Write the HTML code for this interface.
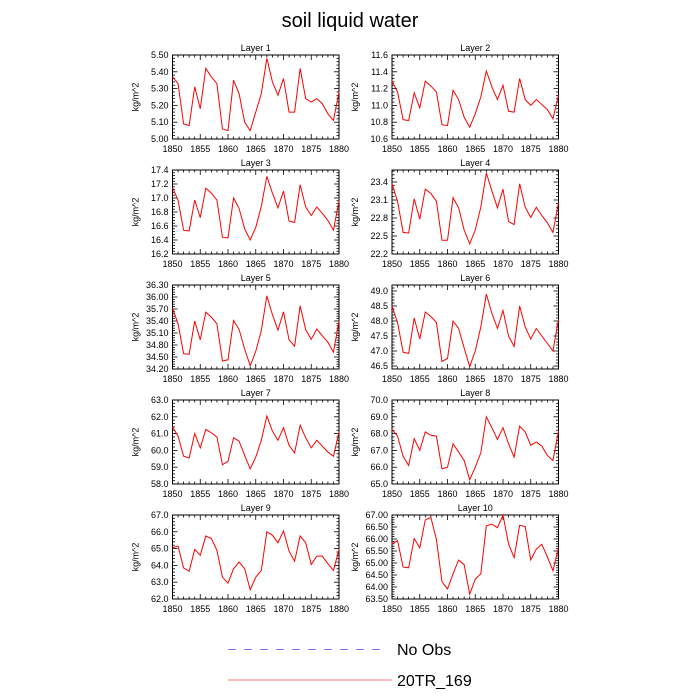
<!DOCTYPE html>
<html><head><meta charset="utf-8"><style>
html,body{margin:0;padding:0;background:#fff;}
svg{display:block;font-family:"Liberation Sans",sans-serif;}
</style></head><body>
<svg id="chart" width="700" height="700" viewBox="0 0 700 700" xmlns="http://www.w3.org/2000/svg">
<text x="350" y="27" text-anchor="middle" font-size="20">soil liquid water</text>
<g id="panels"></g>
<g>
<line x1="228" y1="649.5" x2="386" y2="649.5" stroke="#7777ee" stroke-width="1" stroke-dasharray="8,8"/>
<text x="397" y="655" font-size="16">No Obs</text>
<line x1="228" y1="680" x2="392" y2="680" stroke="#ff7777" stroke-width="1"/>
<text x="397" y="686" font-size="16">20TR_169</text>
</g>
</svg>
<script>
const years = [1850,1851,1852,1853,1854,1855,1856,1857,1858,1859,1860,1861,1862,1863,1864,1865,1866,1867,1868,1869,1870,1871,1872,1873,1874,1875,1876,1877,1878,1879,1880];
const xTicks = [1850,1855,1860,1865,1870,1875,1880];
const layer1 = [5.37,5.33,5.09,5.08,5.31,5.18,5.42,5.37,5.33,5.06,5.05,5.35,5.27,5.10,5.05,5.16,5.27,5.48,5.34,5.26,5.36,5.16,5.16,5.42,5.24,5.22,5.24,5.21,5.15,5.11,5.28];
const layer2 = [11.29,11.16,10.83,10.82,11.15,10.97,11.29,11.23,11.16,10.77,10.76,11.18,11.07,10.86,10.74,10.90,11.10,11.41,11.22,11.07,11.24,10.93,10.92,11.32,11.07,11.00,11.07,11.01,10.95,10.84,11.12];
const layer3 = [17.15,16.97,16.54,16.53,16.97,16.72,17.14,17.07,16.97,16.44,16.43,17.0,16.85,16.56,16.40,16.58,16.88,17.31,17.07,16.86,17.10,16.67,16.65,17.19,16.87,16.75,16.87,16.78,16.68,16.54,16.96];
const layer4 = [23.37,23.08,22.56,22.55,23.12,22.78,23.28,23.21,23.08,22.43,22.43,23.14,22.97,22.60,22.37,22.60,22.98,23.55,23.25,22.97,23.28,22.74,22.69,23.37,22.98,22.81,22.98,22.84,22.72,22.56,23.05];
const layer5 = [35.72,35.33,34.58,34.57,35.40,34.93,35.62,35.50,35.33,34.40,34.43,35.41,35.19,34.70,34.28,34.64,35.16,36.03,35.56,35.17,35.63,34.93,34.77,35.78,35.18,34.94,35.20,35.03,34.87,34.62,35.40];
const layer6 = [48.5,47.95,46.96,46.92,48.1,47.4,48.3,48.15,47.95,46.65,46.75,48.0,47.75,47.1,46.48,47.0,47.8,48.9,48.25,47.75,48.35,47.5,47.15,48.5,47.8,47.4,47.75,47.5,47.25,47.0,48.05];
const layer7 = [61.4,60.85,59.65,59.55,61.0,60.15,61.25,61.05,60.8,59.15,59.35,60.75,60.55,59.7,58.9,59.6,60.6,62.05,61.15,60.6,61.35,60.3,59.85,61.5,60.75,60.15,60.6,60.25,59.9,59.65,61.1];
const layer8 = [68.25,67.85,66.65,66.1,67.7,67.0,68.1,67.9,67.85,65.9,66.0,67.4,66.9,66.4,65.25,66.0,66.85,69.0,68.35,67.65,68.35,67.4,66.6,68.45,68.1,67.3,67.5,67.25,66.7,66.4,68.15];
const layer9 = [65.05,65.15,63.85,63.65,64.95,64.6,65.75,65.6,64.9,63.3,62.95,63.8,64.2,63.8,62.55,63.3,63.7,66.0,65.8,65.35,66.05,64.85,64.25,65.75,65.35,64.05,64.55,64.55,64.1,63.7,64.95];
const layer10 = [65.8,65.93,64.83,64.8,66.02,65.63,66.8,66.9,65.98,64.22,63.92,64.55,65.12,64.93,63.7,64.33,64.55,66.55,66.62,66.47,67.0,65.8,65.22,66.57,66.52,65.13,65.58,65.78,65.25,64.68,65.65];
const yTicks1 = [5.00,5.10,5.20,5.30,5.40,5.50];
const yTicks2 = [10.6,10.8,11.0,11.2,11.4,11.6];
const yTicks3 = [16.2,16.4,16.6,16.8,17.0,17.2,17.4];
const yTicks4 = [22.2,22.5,22.8,23.1,23.4];
const yTicks5 = [34.2,34.5,34.8,35.1,35.4,35.7,36.0,36.3];
const yTicks6 = [46.5,47.0,47.5,48.0,48.5,49.0];
const yTicks7 = [58,59,60,61,62,63];
const yTicks8 = [65,66,67,68,69,70];
const yTicks9 = [62,63,64,65,66,67];
const yTicks10 = [63.5,64.0,64.5,65.0,65.5,66.0,66.5,67.0];
const yRanges = [[5.0,5.5],[10.6,11.6],[16.2,17.4],[22.2,23.6],[34.2,36.3],[46.4,49.2],[58,63],[65,70],[62,67],[63.5,67]];
const decimals = [2,1,1,1,2,1,1,1,1,2];
const series = [layer1,layer2,layer3,layer4,layer5,layer6,layer7,layer8,layer9,layer10];
const tickSets = [yTicks1,yTicks2,yTicks3,yTicks4,yTicks5,yTicks6,yTicks7,yTicks8,yTicks9,yTicks10];

const NS="http://www.w3.org/2000/svg";
const root=document.getElementById('panels');
function mk(tag,attrs,parent){const e=document.createElementNS(NS,tag);for(const k in attrs)e.setAttribute(k,attrs[k]);parent.appendChild(e);return e;}
const colX=[172.5,392], W=166.5, rowY=[55,170,285,400,515], H=84;
for(let i=0;i<10;i++){
  const x0=colX[i%2], y0=rowY[Math.floor(i/2)];
  const [ymin,ymax]=yRanges[i];
  const sx=v=>x0+(v-1850)/30*W;
  const sy=v=>y0+H-(v-ymin)/(ymax-ymin)*H;
  const g=mk('g',{},root);
  
  
  const t=mk('text',{x:x0+W/2,y:y0-4,'text-anchor':'middle','font-size':'9'},g);
  t.textContent='Layer '+(i+1);
  
  
  const yl=mk('text',{transform:`translate(${x0-34},${y0+H/2}) rotate(-90)`,'text-anchor':'middle','font-size':'9'},g);
  yl.textContent='kg/m^2';
  
  
  // x ticks
  for(let yr=1850;yr<=1880;yr++){
    const major=xTicks.includes(yr), L=major?5:2.5, X=sx(yr);
    mk('line',{x1:X,y1:y0+H,x2:X,y2:y0+H-L,stroke:'#000','stroke-width':'0.8'},g);
    mk('line',{x1:X,y1:y0,x2:X,y2:y0+L,stroke:'#000','stroke-width':'0.8'},g);
  }
  xTicks.forEach(yr=>{
    const tx=mk('text',{x:sx(yr),y:y0+H+13,'text-anchor':'middle','font-size':'9'},g);
    tx.textContent=yr;
    
    
  });
  const ticks=tickSets[i], step=ticks[1]-ticks[0];
  for(let v=ticks[0]-step;v<=ymax+1e-9;v+=step/5){
    if(v<ymin-1e-9) continue;
    const Y=sy(v);
    const major=ticks.some(tv=>Math.abs(tv-v)<step/50), L=major?5:2.5;
    mk('line',{x1:x0,y1:Y,x2:x0+L,y2:Y,stroke:'#000','stroke-width':'0.8'},g);
    mk('line',{x1:x0+W,y1:Y,x2:x0+W-L,y2:Y,stroke:'#000','stroke-width':'0.8'},g);
  }
  ticks.forEach(v=>{
    const ty=mk('text',{x:x0-4,y:sy(v)+3,'text-anchor':'end','font-size':'9'},g);
    ty.textContent=v.toFixed(decimals[i]);
    
    
  });
  mk('rect',{x:x0,y:y0,width:W,height:H,fill:'none',stroke:'#000','stroke-width':'1'},g);
  const pts=series[i].map((v,k)=>sx(years[k]).toFixed(2)+','+sy(v).toFixed(2)).join(' ');
  const pl=mk('polyline',{points:pts,fill:'none',stroke:'#ff0000','stroke-width':'1'},g);
  
  
}
</script>
</body></html>
